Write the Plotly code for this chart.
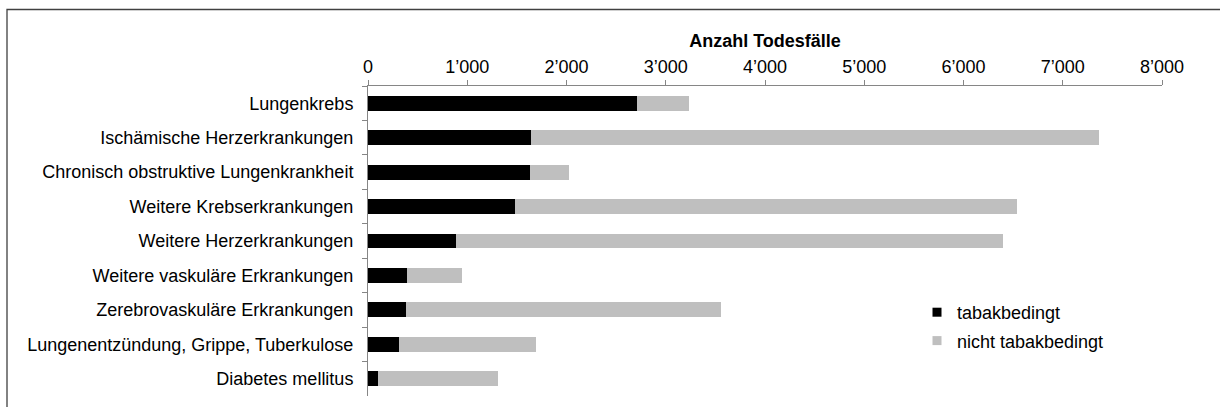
import plotly.graph_objects as go

categories = [
    "Lungenkrebs",
    "Ischämische Herzerkrankungen",
    "Chronisch obstruktive Lungenkrankheit",
    "Weitere Krebserkrankungen",
    "Weitere Herzerkrankungen",
    "Weitere vaskuläre Erkrankungen",
    "Zerebrovaskuläre Erkrankungen",
    "Lungenentzündung, Grippe, Tuberkulose",
    "Diabetes mellitus",
]
tabak = [2707, 1643, 1633, 1486, 888, 395, 378, 310, 99]
total = [3237, 7367, 2026, 6537, 6393, 952, 3560, 1694, 1311]
nicht_tabak = [t - a for t, a in zip(total, tabak)]

x_ticks = [0, 1000, 2000, 3000, 4000, 5000, 6000, 7000, 8000]

FONT = "Liberation Sans, Arial, sans-serif"
BLACK = "#000000"
GRAY = "#BFBFBF"
AXIS = "#868686"

fig = go.Figure()
fig.add_trace(go.Bar(y=categories, x=tabak, orientation="h", name="tabakbedingt",
                     marker=dict(color=BLACK, line=dict(width=0)), showlegend=False))
fig.add_trace(go.Bar(y=categories, x=nicht_tabak, orientation="h", name="nicht tabakbedingt",
                     marker=dict(color=GRAY, line=dict(width=0)), showlegend=False))
# legend entries
fig.add_trace(go.Scatter(x=[None], y=[None], mode="markers", name="tabakbedingt",
                         marker=dict(symbol="square", size=9, color=BLACK),
                         legendgroup="a"))
fig.add_trace(go.Scatter(x=[None], y=[None], mode="markers", name="nicht tabakbedingt",
                         marker=dict(symbol="square", size=9, color=GRAY),
                         legendgroup="b"))

L, R, T, B = 368, 58, 86, 11
W, H = 1220, 407
pw, ph = W - L - R, H - T - B

fig.update_layout(
    width=W, height=H,
    margin=dict(l=L, r=R, t=T, b=B),
    barmode="stack", bargap=0.57,
    separators=".’",
    plot_bgcolor="white", paper_bgcolor="white",
    font=dict(family=FONT, size=18, color="#000000"),
    xaxis=dict(
        side="top", range=[0, 8000], tickvals=x_ticks, tickformat=",d",
        showline=True, linecolor=AXIS, linewidth=1,
        ticks="outside", ticklen=5, tickcolor=AXIS, ticklabelstandoff=0,
        showgrid=False, zeroline=False,
        title=dict(text="<b>Anzahl Todesfälle</b>", font=dict(size=18), standoff=4),
        fixedrange=True,
    ),
    yaxis=dict(
        type="category", autorange="reversed",
        showline=True, linecolor=AXIS, linewidth=1,
        ticks="outside", ticklen=5, tickcolor=AXIS, tickson="boundaries",
        ticklabelstandoff=10, showgrid=False, zeroline=False,
        fixedrange=True,
    ),
    legend=dict(
        x=(917 - L) / pw, y=(H - B - 294) / ph, xanchor="left", yanchor="top",
        traceorder="grouped", tracegroupgap=2, font=dict(size=18),
        bgcolor="rgba(0,0,0,0)", itemclick=False,
    ),
    shapes=[dict(
        type="rect", xref="paper", yref="paper",
        x0=(7 - L) / pw, x1=(1230 - L) / pw,
        y0=-0.2, y1=(H - B - 9.5) / ph,
        line=dict(color="#404040", width=1.3), layer="below",
    )],
)

fig.write_html("out.html", config={"displayModeBar": False},
               post_script="document.body.style.margin='0px';")
